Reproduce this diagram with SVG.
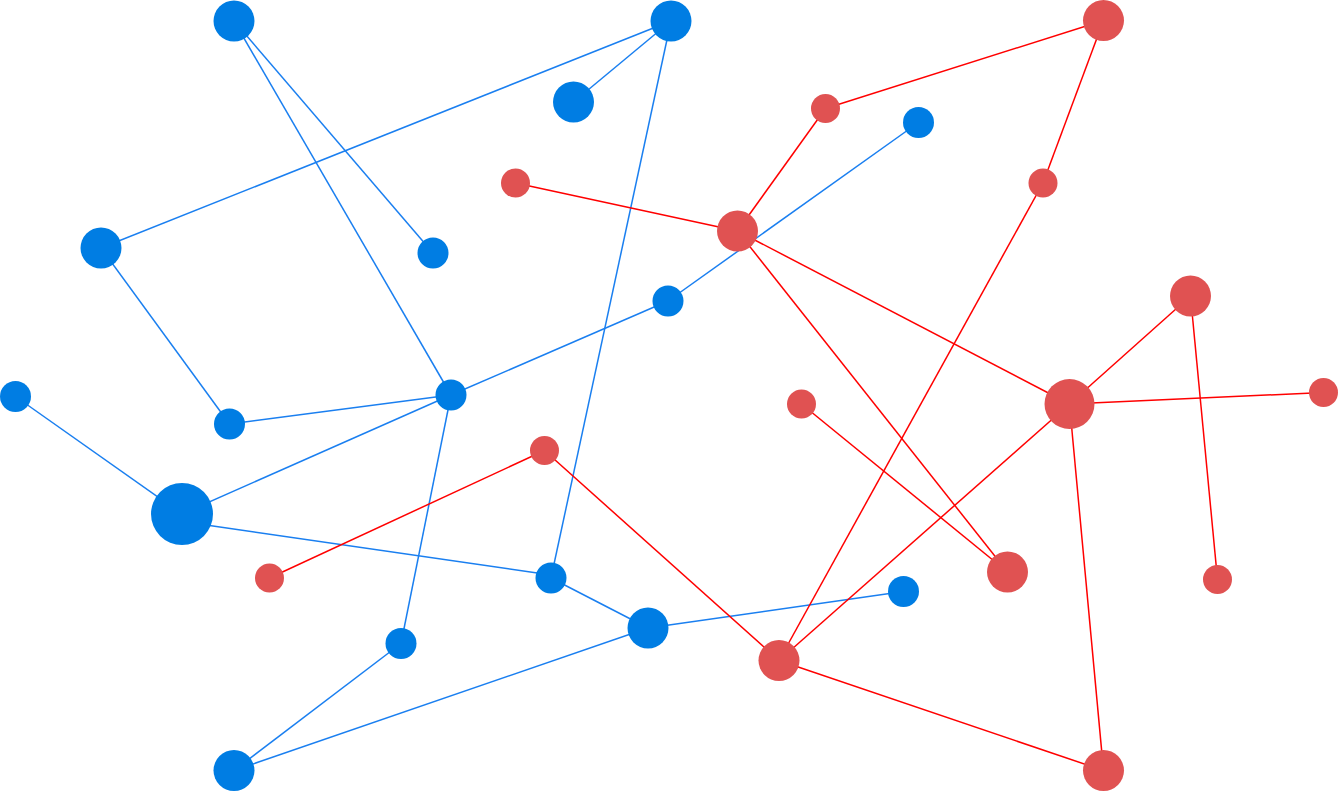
<svg xmlns="http://www.w3.org/2000/svg" width="1339" height="792" viewBox="0 0 1339 792">
<style>
.bl{stroke:#1a7ff0;stroke-width:1.5;fill:none}
.rl{stroke:#ff0000;stroke-width:1.5;fill:none}
.bn{fill:#007de3}
.rn{fill:#e05252}
</style>
<rect width="1339" height="792" fill="#ffffff"/>
<g id="connectors">
<line class="bl" x1="234" y1="21" x2="433" y2="253"/>
<line class="bl" x1="234" y1="21" x2="451" y2="395"/>
<line class="bl" x1="671" y1="21" x2="573.5" y2="102"/>
<line class="bl" x1="671" y1="21" x2="101" y2="248"/>
<line class="bl" x1="671" y1="21" x2="551" y2="578"/>
<line class="bl" x1="918.5" y1="122.5" x2="668" y2="301"/>
<line class="bl" x1="101" y1="248" x2="229.5" y2="424"/>
<line class="bl" x1="668" y1="301" x2="451" y2="395"/>
<line class="bl" x1="451" y1="395" x2="229.5" y2="424"/>
<line class="bl" x1="451" y1="395" x2="182" y2="514"/>
<line class="bl" x1="451" y1="395" x2="401" y2="643.5"/>
<line class="bl" x1="15.5" y1="396.5" x2="182" y2="514"/>
<line class="bl" x1="182" y1="521.5" x2="551" y2="575"/>
<line class="bl" x1="551" y1="578" x2="648" y2="628"/>
<line class="bl" x1="648" y1="628" x2="903.5" y2="591.5"/>
<line class="bl" x1="648" y1="628" x2="234" y2="770.5"/>
<line class="bl" x1="401" y1="643.5" x2="234" y2="770.5"/>
<line class="rl" x1="1103.5" y1="20.5" x2="825.5" y2="108.5"/>
<line class="rl" x1="1103.5" y1="20.5" x2="1043" y2="183"/>
<line class="rl" x1="825.5" y1="108.5" x2="737.5" y2="231"/>
<line class="rl" x1="515.5" y1="183" x2="737.5" y2="231"/>
<line class="rl" x1="737.5" y1="231" x2="1069.5" y2="404"/>
<line class="rl" x1="737.5" y1="231" x2="1007.5" y2="572"/>
<line class="rl" x1="1043" y1="183" x2="779" y2="660.5"/>
<line class="rl" x1="1190.5" y1="296" x2="1069.5" y2="404"/>
<line class="rl" x1="1190.5" y1="296" x2="1217.5" y2="579.5"/>
<line class="rl" x1="1069.5" y1="404" x2="1323.5" y2="392.5"/>
<line class="rl" x1="1069.5" y1="404" x2="779" y2="660.5"/>
<line class="rl" x1="1069.5" y1="404" x2="1103.5" y2="770.5"/>
<line class="rl" x1="801.5" y1="404" x2="1007.5" y2="572"/>
<line class="rl" x1="544.5" y1="450.5" x2="269.5" y2="578"/>
<line class="rl" x1="544.5" y1="450.5" x2="779" y2="660.5"/>
<line class="rl" x1="779" y1="660.5" x2="1103.5" y2="770.5"/>
</g>
<g id="b1"><circle class="bn" cx="234" cy="21" r="20.5"/></g>
<g id="b2"><circle class="bn" cx="671" cy="21" r="20.5"/></g>
<g id="b3"><circle class="bn" cx="573.5" cy="102" r="20.5"/></g>
<g id="b4"><circle class="bn" cx="918.5" cy="122.5" r="15.5"/></g>
<g id="b5"><circle class="bn" cx="101" cy="248" r="20.5"/></g>
<g id="b6"><circle class="bn" cx="433" cy="253" r="15.5"/></g>
<g id="b7"><circle class="bn" cx="668" cy="301" r="15.5"/></g>
<g id="b8"><circle class="bn" cx="15.5" cy="396.5" r="15.5"/></g>
<g id="b9"><circle class="bn" cx="451" cy="395" r="15.5"/></g>
<g id="b10"><circle class="bn" cx="229.5" cy="424" r="15.5"/></g>
<g id="b11"><circle class="bn" cx="182" cy="514" r="31"/></g>
<g id="b12"><circle class="bn" cx="551" cy="578" r="15.5"/></g>
<g id="b13"><circle class="bn" cx="903.5" cy="591.5" r="15.5"/></g>
<g id="b14"><circle class="bn" cx="648" cy="628" r="20.5"/></g>
<g id="b15"><circle class="bn" cx="401" cy="643.5" r="15.5"/></g>
<g id="b16"><circle class="bn" cx="234" cy="770.5" r="20.5"/></g>
<g id="r1"><circle class="rn" cx="1103.5" cy="20.5" r="20.5"/></g>
<g id="r2"><circle class="rn" cx="825.5" cy="108.5" r="14.5"/></g>
<g id="r3"><circle class="rn" cx="515.5" cy="183" r="14.5"/></g>
<g id="r4"><circle class="rn" cx="1043" cy="183" r="14.5"/></g>
<g id="r5"><circle class="rn" cx="737.5" cy="231" r="20.5"/></g>
<g id="r6"><circle class="rn" cx="1190.5" cy="296" r="20.5"/></g>
<g id="r7"><circle class="rn" cx="1069.5" cy="404" r="25"/></g>
<g id="r8"><circle class="rn" cx="1323.5" cy="392.5" r="14.5"/></g>
<g id="r9"><circle class="rn" cx="801.5" cy="404" r="14.5"/></g>
<g id="r10"><circle class="rn" cx="544.5" cy="450.5" r="14.5"/></g>
<g id="r11"><circle class="rn" cx="269.5" cy="578" r="14.5"/></g>
<g id="r12"><circle class="rn" cx="1007.5" cy="572" r="20.5"/></g>
<g id="r13"><circle class="rn" cx="1217.5" cy="579.5" r="14.5"/></g>
<g id="r14"><circle class="rn" cx="779" cy="660.5" r="20.5"/></g>
<g id="r15"><circle class="rn" cx="1103.5" cy="770.5" r="20.5"/></g>
</svg>
